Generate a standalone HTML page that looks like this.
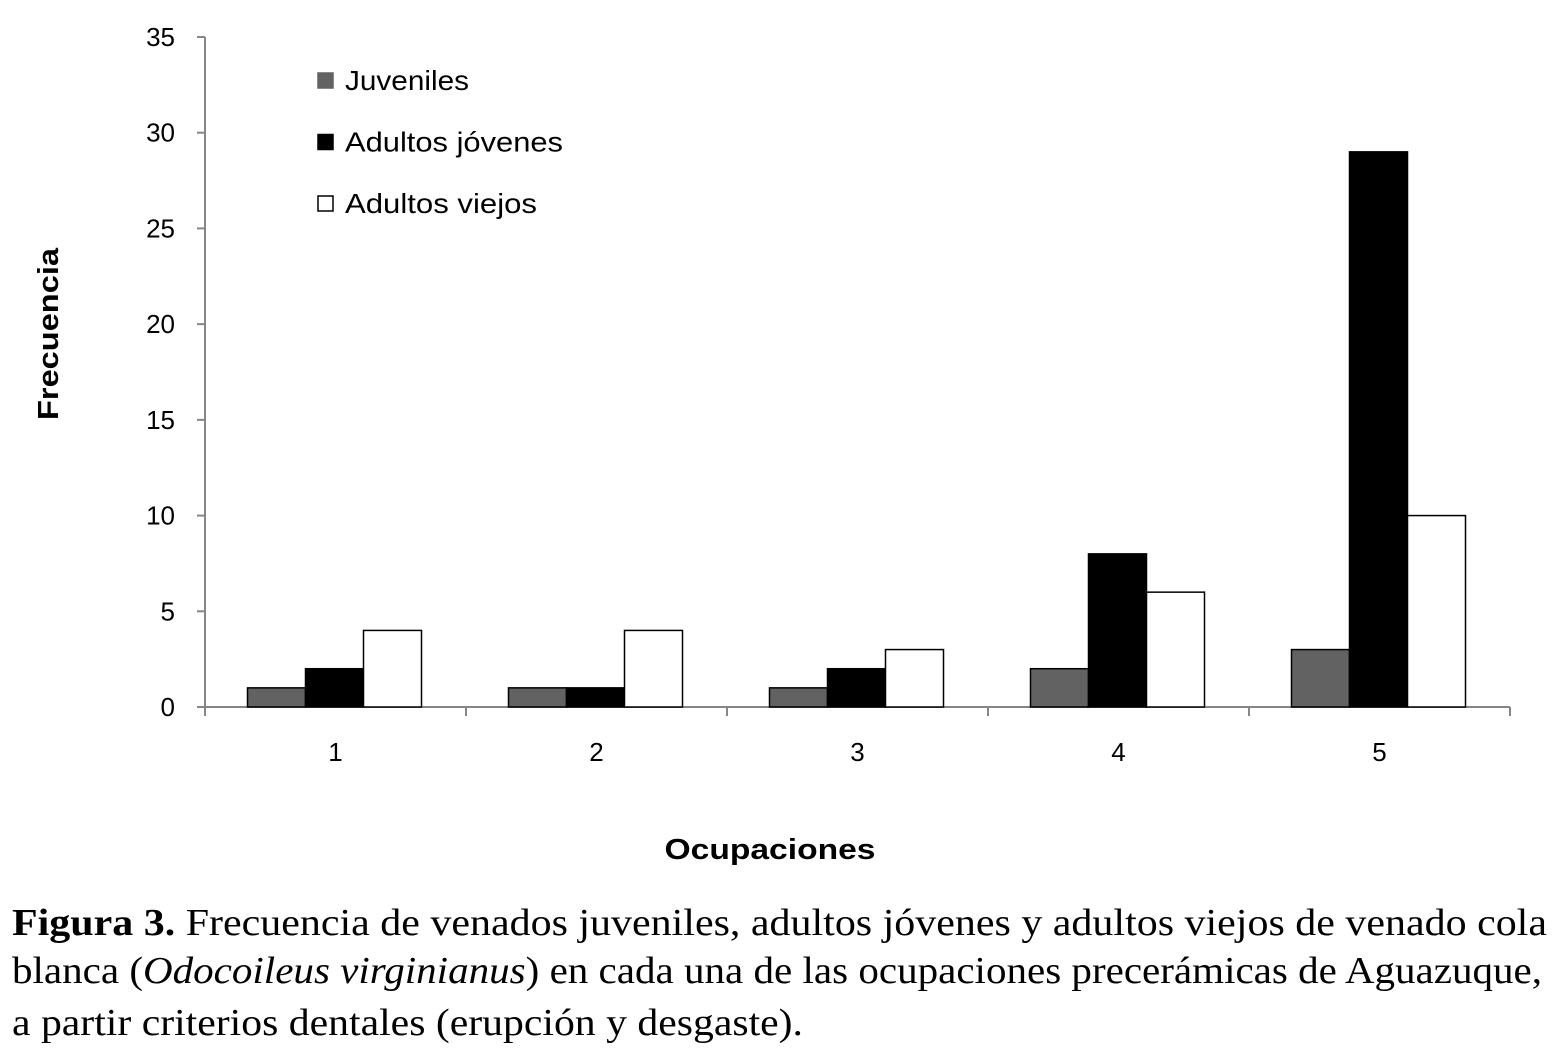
<!DOCTYPE html>
<html><head><meta charset="utf-8"><style>
body{margin:0;background:#fff;width:1555px;height:1049px;overflow:hidden}
svg text{font-family:"Liberation Sans",sans-serif}
#cap text{font-family:"Liberation Serif",serif;font-size:38px}
</style></head><body>
<svg id="chart" width="1555" height="880" style="position:absolute;left:0;top:0"></svg>
<svg id="cap" width="1555" height="169" style="position:absolute;left:0;top:880px">
<text x="12" y="55" textLength="1535" lengthAdjust="spacingAndGlyphs"><tspan font-weight="bold">Figura 3.</tspan> Frecuencia de venados juveniles, adultos jóvenes y adultos viejos de venado cola</text>
<text x="12" y="103" textLength="1530" lengthAdjust="spacingAndGlyphs">blanca (<tspan font-style="italic">Odocoileus virginianus</tspan>) en cada una de las ocupaciones precerámicas de Aguazuque,</text>
<text x="12" y="155" textLength="791" lengthAdjust="spacingAndGlyphs">a partir criterios dentales (erupción y desgaste).</text>
</svg>
<script>
const categories=["1","2","3","4","5"];
const juveniles=[1,1,1,2,3];
const adultosJovenes=[2,1,2,8,29];
const adultosViejos=[4,4,3,6,10];
const yTicks=[0,5,10,15,20,25,30,35];
const seriesNames=["Juveniles","Adultos jóvenes","Adultos viejos"];
const svg=document.getElementById('chart');
const NS="http://www.w3.org/2000/svg";
const x0=205,x1=1510,y0=707,yTop=37,yMax=35;
const y=v=>y0-(v/yMax)*(y0-yTop);
const bw=(x1-x0)/categories.length;
const xc=i=>x0+bw*(i+0.5);
function mk(t,a){const e=document.createElementNS(NS,t);for(const k in a)e.setAttribute(k,a[k]);svg.appendChild(e);return e;}
let e;
e=mk('line',{x1:x0,y1:yTop,x2:x0,y2:y0,stroke:'#868686','stroke-width':2});


e=mk('line',{x1:x0,y1:y0,x2:x1,y2:y0,stroke:'#868686','stroke-width':2});


yTicks.forEach(v=>{
 mk('line',{x1:x0-8,y1:y(v),x2:x0,y2:y(v),stroke:'#868686','stroke-width':2});
 e=mk('text',{x:175,y:y(v)+9,'text-anchor':'end','font-size':26,fill:'#000'});e.textContent=v;
 
 
});
for(let i=0;i<=categories.length;i++)mk('line',{x1:x0+bw*i,y1:y0,x2:x0+bw*i,y2:y0+9,stroke:'#868686','stroke-width':2});
const series=[juveniles,adultosJovenes,adultosViejos];
const fills=['#626262','#000','#fff'];
const legW=[124,218,192];
categories.forEach((c,i)=>{
 e=mk('text',{x:xc(i),y:761,'text-anchor':'middle','font-size':26,fill:'#000'});e.textContent=c;
 
 
 series.forEach((s,j)=>{
  const bx=xc(i)-88+j*58;
  e=mk('rect',{x:bx,y:y(s[i]),width:58,height:y0-y(s[i]),fill:fills[j],stroke:'#000','stroke-width':1.5});
  
  
 });
});
seriesNames.forEach((n,j)=>{
 const cy=81+j*61.5;
 e=mk('rect',{x:318,y:cy-8,width:15,height:15,fill:fills[j],stroke:j==2?'#000':fills[j],'stroke-width':1.5});
 
 
 e=mk('text',{x:345,y:cy+9,'font-size':28,fill:'#000',textLength:legW[j],lengthAdjust:'spacingAndGlyphs'});e.textContent=n;
 
 
});
e=mk('text',{x:0,y:0,'font-size':29,'font-weight':'bold','text-anchor':'middle',textLength:172,lengthAdjust:'spacingAndGlyphs',transform:'translate(58,334) rotate(-90)'});e.textContent='Frecuencia';


e=mk('text',{x:770,y:859,'font-size':29,'font-weight':'bold','text-anchor':'middle',textLength:211,lengthAdjust:'spacingAndGlyphs'});e.textContent='Ocupaciones';


</script>
</body></html>
